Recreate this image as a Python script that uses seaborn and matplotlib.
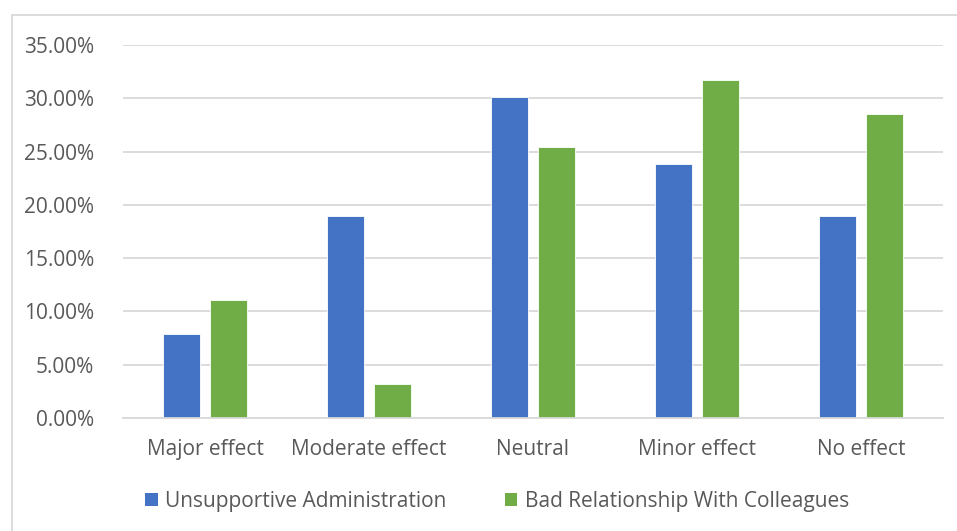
import matplotlib
matplotlib.use("Agg")
import matplotlib.pyplot as plt
from matplotlib.patches import Patch
from matplotlib.lines import Line2D
from matplotlib.ticker import FuncFormatter
import seaborn as sns
import pandas as pd

categories = ["Major effect", "Moderate effect", "Neutral", "Minor effect", "No effect"]
series_names = ["Unsupportive Administration", "Bad Relationship With Colleagues"]
unsupportive_admin = [0.079, 0.190, 0.301, 0.238, 0.190]
bad_relationship = [0.111, 0.032, 0.254, 0.317, 0.285]
y_ticks = [0.0, 0.05, 0.10, 0.15, 0.20, 0.25, 0.30, 0.35]

colors = ["#4472C4", "#70AD47"]
text_color = "#595959"

df = pd.DataFrame({
    "category": categories * 2,
    "series": [series_names[0]] * len(categories) + [series_names[1]] * len(categories),
    "value": unsupportive_admin + bad_relationship,
})

sns.set_theme(style="white")
plt.rcParams["font.family"] = ["Open Sans", "DejaVu Sans"]

fig = plt.figure(figsize=(9.57, 5.31), dpi=100)
ax = fig.add_axes([123 / 957, (531 - 418) / 531, 820 / 957, 373 / 531])

sns.barplot(data=df, x="category", y="value", hue="series", order=categories,
            hue_order=series_names, palette=colors, width=0.57, gap=0.2,
            saturation=1, legend=False, ax=ax, edgecolor="white", linewidth=0.6)

ax.set_ylim(0, 0.35)
ax.set_xlim(-0.5, len(categories) - 0.5)
ax.set_yticks(y_ticks)
ax.yaxis.set_major_formatter(FuncFormatter(lambda v, _: f"{v * 100:.2f}%"))
ax.set_xlabel("")
ax.set_ylabel("")
ax.grid(axis="y", color="#D9D9D9", linewidth=1.3)
ax.set_axisbelow(True)
for side in ["top", "right", "left"]:
    ax.spines[side].set_visible(False)
ax.spines["bottom"].set_color("#D9D9D9")
ax.spines["bottom"].set_linewidth(1.3)
ax.tick_params(axis="both", length=0, labelsize=15, labelcolor=text_color)
ax.tick_params(axis="y", pad=21)
ax.tick_params(axis="x", pad=15)

# chart frame edges
fig.add_artist(Line2D([11.5 / 957, 1.0], [1 - 15 / 531, 1 - 15 / 531],
                      transform=fig.transFigure, color="#D9D9D9", linewidth=1.3))
fig.add_artist(Line2D([11.5 / 957, 11.5 / 957], [0, 1 - 15 / 531],
                      transform=fig.transFigure, color="#D9D9D9", linewidth=1.3))

handles = [Patch(facecolor=c, edgecolor="none") for c in colors]
fig.legend(handles, series_names, loc="center", bbox_to_anchor=(497 / 957, 1 - 501 / 531),
           ncol=2, frameon=False, fontsize=15, labelcolor=text_color,
           handlelength=0.6, handleheight=0.6, handletextpad=0.35, columnspacing=2.8)

fig.savefig("out.png", dpi=100, facecolor="white")
